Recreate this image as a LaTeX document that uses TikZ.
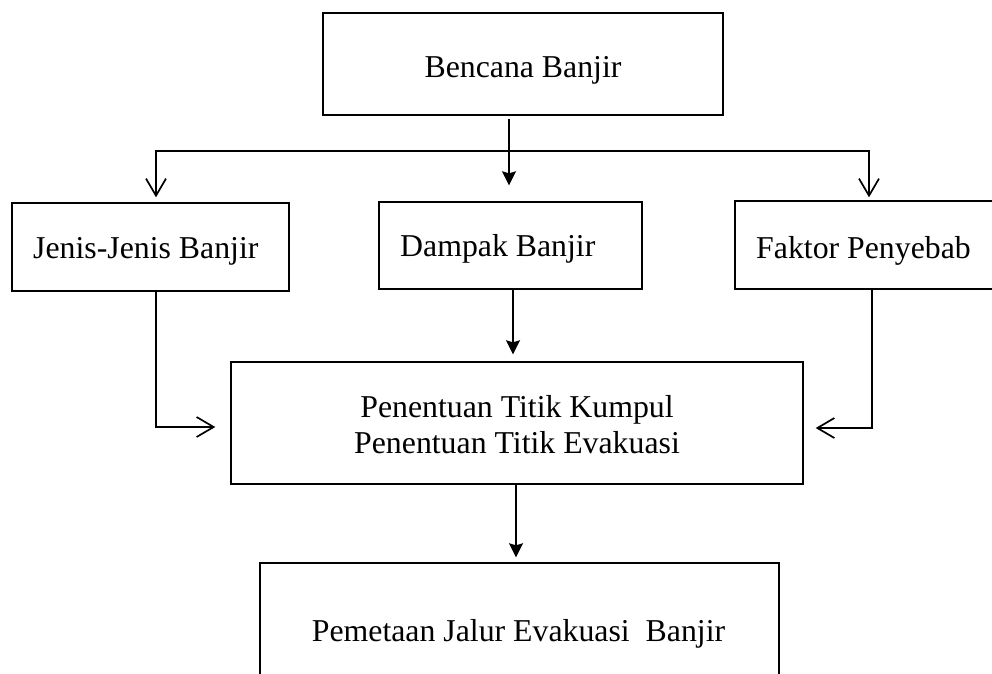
\documentclass[tikz,border=0pt]{standalone}
\usepackage{fontspec}
\setmainfont{Liberation Serif}
\usetikzlibrary{arrows.meta}
\begin{document}
\begin{tikzpicture}[x=1pt,y=-1pt,
  box/.style={draw=black, line width=1.4pt, inner sep=0pt},
  txt/.style={inner sep=0pt, font=\fontsize{31.8pt}{36pt}\selectfont},
  conn/.style={line width=1.7pt, line join=miter},
  solidarr/.style={conn, -{Stealth[length=14pt,width=14pt,inset=2pt]}},
  openarr/.style={conn, -{Straight Barb[length=17pt,width=20pt]}},
  openboth/.style={conn, {Straight Barb[length=17pt,width=20pt]}-{Straight Barb[length=17pt,width=20pt]}}]
\useasboundingbox (0,0) rectangle (992,673);
\clip (0,0) rectangle (992,673);

% boxes
\node[box, minimum width=400pt, minimum height=102pt] (bencana) at (523,64) {};
\node[box, minimum width=277pt, minimum height=88pt] (jenis) at (150.5,247) {};
\node[box, minimum width=263pt, minimum height=87pt] (dampak) at (510.5,245.5) {};
\node[box, minimum width=260pt, minimum height=88pt] (faktor) at (865,245) {};
\node[box, minimum width=572pt, minimum height=122pt] (pen) at (517,423) {};
\node[box, minimum width=519pt, minimum height=197pt] (pem) at (519.5,661.5) {};

% texts
\node[txt, anchor=base] (tb) at (523,77) {Bencana Banjir};
\node[txt, anchor=base west] (tj) at (33,258) {Jenis-Jenis Banjir};
\node[txt, anchor=base west] (td) at (400,256) {Dampak Banjir};
\node[txt, anchor=base west] (tf) at (756,258) {Faktor Penyebab};
\node[txt, anchor=base] (tp1) at (517,417) {Penentuan Titik Kumpul};
\node[txt, anchor=base] (tp2) at (517,453) {Penentuan Titik Evakuasi};
\node[txt, anchor=base] (tm) at (518.5,641) {Pemetaan Jalur Evakuasi~ Banjir};

% helper coordinates
\coordinate (bx) at (509,0);
\coordinate (hL) at (156,151);
\coordinate (hR) at (869,151);
\coordinate (jx) at (156,427);
\coordinate (fx) at (872,428);
\coordinate (dx) at (513,0);
\coordinate (px) at (516,0);

% connectors
\draw[solidarr, shorten <=3pt, shorten >=16pt] (bencana.south -| bx) -- (dampak.north -| bx);
\draw[openboth, shorten <=5pt, shorten >=3pt] (jenis.north -| hL) |- (hR) -- (faktor.north -| hR);
\draw[openarr, shorten >=15pt] (jenis.south -| jx) |- (pen.west |- jx);
\draw[openarr, shorten >=12pt] (faktor.south -| fx) |- (pen.east |- fx);
\draw[solidarr, shorten >=7pt] (dampak.south -| dx) -- (pen.north -| dx);
\draw[solidarr, shorten >=5pt] (pen.south -| px) -- (pem.north -| px);
\end{tikzpicture}
\end{document}
